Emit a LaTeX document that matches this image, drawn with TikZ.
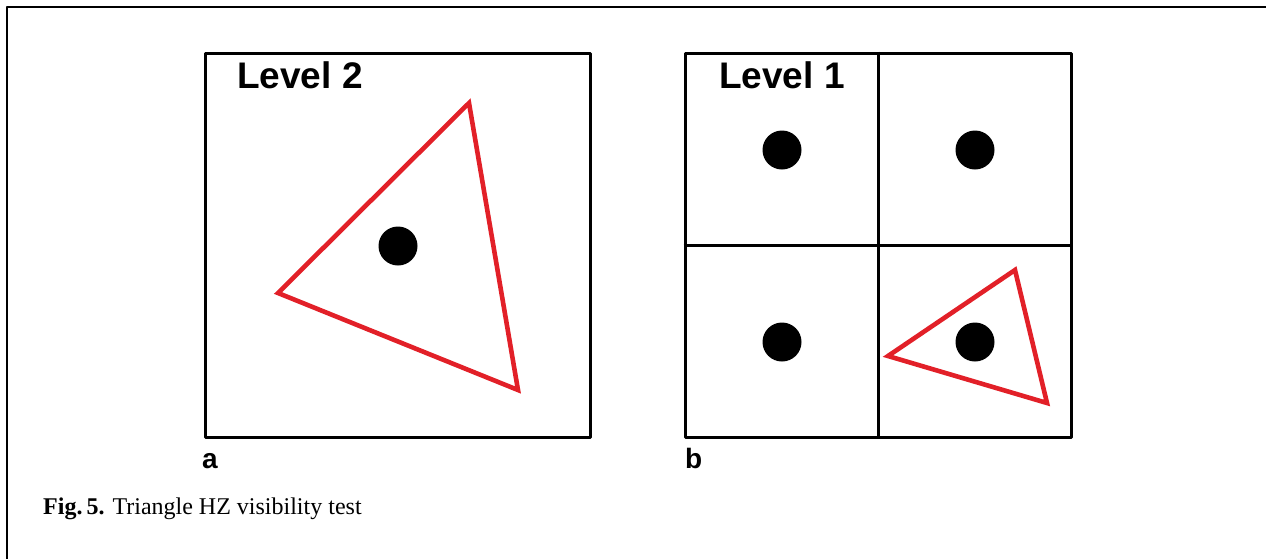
\documentclass[tikz,border=0pt]{standalone}
\usepackage{fontspec}
\setmainfont{Liberation Serif}
\newfontfamily\labfont{Liberation Sans}
\definecolor{trired}{RGB}{226,32,40}
\tikzset{
    lab/.style={
        font=\labfont\bfseries\fontsize{37}{42}\selectfont
    }
}

\begin{document}
\begin{tikzpicture}[x=1pt,y=-1pt, line cap=round, line join=round]

\tikzset{
  frame/.style={draw=black, line width=2.6pt, line cap=butt},
  cell/.style={draw=black, line width=3pt, inner sep=0pt, line cap=butt},
  tri/.style={draw=trired, line width=4.6pt, line join=miter},
  dot/.style={circle, fill=black, minimum size=39pt, inner sep=0pt},
  panlab/.style={font=\labfont\bfseries\fontsize{28}{30}\selectfont, inner sep=0pt, anchor=base west},
  capt/.style={font=\fontsize{24}{30}\selectfont, inner sep=0pt, anchor=base west},
}

\useasboundingbox (0,0) rectangle (1266,558);

% outer frame
\coordinate (FB) at (7,560);
\coordinate (FT) at (7,7);
\coordinate (FR) at (1270,7);
\draw[frame] (FB) -- (FT) -- (FR);

% boxes
\node[cell, minimum width=385pt, minimum height=384pt] (boxA) at (397.5,245) {};
\node[cell, minimum width=386pt, minimum height=384pt] (boxB) at (878,245) {};
\draw[cell] (boxB.north) -- (boxB.south);
\draw[cell] (boxB.west) -- (boxB.east);

% dots
\node[dot] (dotA) at (398,246) {};
\node[dot] (dotNW) at (782,150) {};
\node[dot] (dotNE) at (975,150) {};
\node[dot] (dotSW) at (782,342) {};
\node[dot] (dotSE) at (975,342) {};

% triangle, level 2
\coordinate (A1) at (469,103);
\coordinate (A2) at (278,293);
\coordinate (A3) at (518,390);
\draw[tri] (A1) -- (A2) -- (A3) -- cycle;

% triangle, level 1
\coordinate (B1) at (1015,270);
\coordinate (B2) at (888,356);
\coordinate (B3) at (1047,403);
\draw[tri] (B1) -- (B2) -- (B3) -- cycle;

% labels
\node[lab, inner sep=0pt, anchor=base west] (levA) at (237,88) {Level 2};
\node[lab, inner sep=0pt, anchor=base west] (levB) at (719,88) {Level 1};
\node[panlab] (labA) at (202,468) {a};
\node[panlab] (labB) at (685,468) {b};

% caption
\node[capt] (cap) at (43,514) {\textbf{Fig.\,5.}\,\,Triangle HZ visibility test};

\end{tikzpicture}
\end{document}
